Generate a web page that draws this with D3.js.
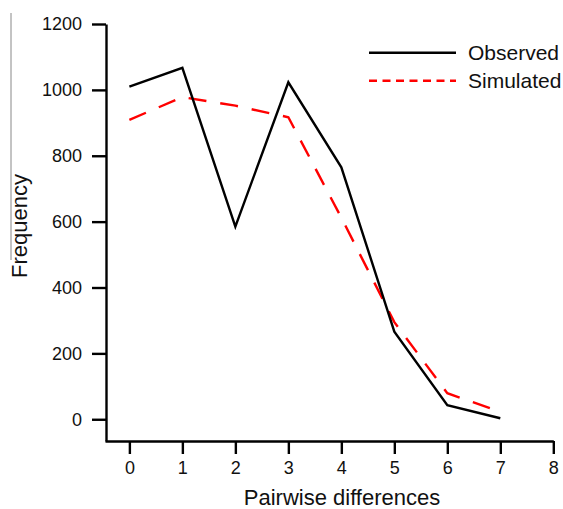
<!DOCTYPE html>
<html>
<head>
<meta charset="utf-8">
<script src="https://cdn.jsdelivr.net/npm/d3@7"></script>
<style>
  body { margin: 0; background: #fff; }
  svg text { font-family: "Liberation Sans", Arial, sans-serif; fill: #111; }
</style>
</head>
<body>
<svg></svg>
<script>
let differences = [0, 1, 2, 3, 4, 5, 6, 7]
let observed = [1010, 1067, 585, 1023, 765, 266, 43, 3]
let simulated = [909, 978, 952, 917, 612, 295, 79, 23]
let xTicks = [0, 1, 2, 3, 4, 5, 6, 7, 8]
let yTicks = [0, 200, 400, 600, 800, 1000, 1200]
let seriesNames = ['Observed', 'Simulated']

let width = 563
let height = 509

let xAxisScale
let yAxisScale

let svg = d3.select('svg')

let drawCanvas = () => {
    svg.attr('width', width)
       .attr('height', height)
}

let generateScales = () => {
    xAxisScale = d3.scaleLinear()
                   .domain([-0.46, 8])
                   .range([105, 553.3])
    yAxisScale = d3.scaleLinear()
                   .domain([-66, 1200])
                   .range([441, 24])
}

let generateAxis = () => {
    let xAxis = d3.axisBottom(xAxisScale)
                  .tickValues(xTicks)
                  .tickFormat(d3.format('d'))
                  .tickSizeInner(13)
                  .tickSizeOuter(0)
                  .tickPadding(7)
    let gx = svg.append('g')
       .attr('id', 'x-axis')
       .attr('transform', 'translate(0,441)')
       .call(xAxis)
    gx.selectAll('text').style('font-size', '18px')

    let yAxis = d3.axisLeft(yAxisScale)
                  .tickValues(yTicks)
                  .tickFormat(d3.format('d'))
                  .tickSizeInner(14)
                  .tickSizeOuter(0)
                  .tickPadding(10)
    let gy = svg.append('g')
        .attr('id', 'y-axis')
        .attr('transform', 'translate(106,0)')
        .call(yAxis)
    gy.selectAll('text').style('font-size', '18px')

    svg.selectAll('.domain, .tick line')
       .attr('stroke', '#000')
       .attr('stroke-width', 2.4)

    svg.append('text')
       .attr('x', 342)
       .attr('y', 505)
       .attr('text-anchor', 'middle')
       .style('font-size', '22px')
       .text('Pairwise differences')

    svg.append('text')
       .attr('transform', 'translate(27,226) rotate(-90)')
       .attr('text-anchor', 'middle')
       .style('font-size', '22px')
       .text('Frequency')

    // thin grey rule left of the y title, as in the original figure
    svg.append('line')
       .attr('x1', 11).attr('x2', 11)
       .attr('y1', 13).attr('y2', 260)
       .attr('stroke', '#888')
       .attr('stroke-width', 1)
}

let generateLines = () => {
    let line = d3.line()
                 .x((d, i) => xAxisScale(differences[i]))
                 .y(d => yAxisScale(d))

    svg.append('path')
       .datum(simulated)
       .attr('d', line)
       .attr('fill', 'none')
       .attr('stroke', '#ff0000')
       .attr('stroke-width', 2.4)
       .attr('stroke-dasharray', '18,14')

    svg.append('path')
       .datum(observed)
       .attr('d', line)
       .attr('fill', 'none')
       .attr('stroke', '#000')
       .attr('stroke-width', 2.4)
}

let generateLegend = () => {
    let legend = svg.append('g')
    seriesNames.forEach((name, i) => {
        let y = 52.7 + i * 28
        legend.append('line')
              .attr('x1', 369).attr('x2', 456)
              .attr('y1', y).attr('y2', y)
              .attr('stroke', i == 0 ? '#000' : '#ff0000')
              .attr('stroke-width', 2.4)
              .attr('stroke-dasharray', i == 0 ? null : '8,5.5')
        legend.append('text')
              .attr('x', 468)
              .attr('y', y + 7.5)
              .style('font-size', '21px')
              .text(name)
    })
}

drawCanvas()
generateScales()
generateAxis()
generateLines()
generateLegend()
</script>
</body>
</html>
